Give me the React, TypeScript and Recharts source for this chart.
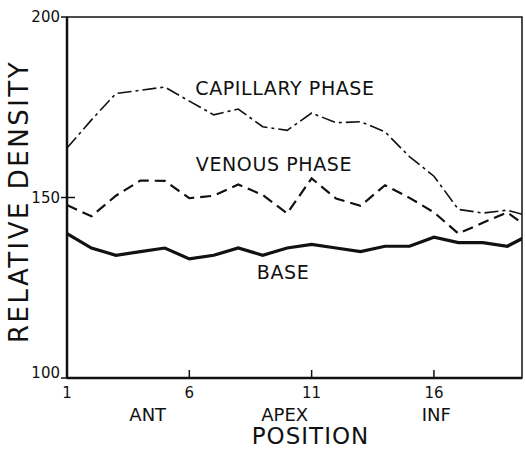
import React from 'react';
import { LineChart, Line, XAxis, YAxis, ReferenceArea, ReferenceDot } from 'recharts';

const positions = [1, 2, 3, 4, 5, 6, 7, 8, 9, 10, 11, 12, 13, 14, 15, 16, 17, 18, 19, 20];
const capillary = [163.7, 171.5, 178.8, 179.7, 180.6, 176.7, 172.9, 174.5, 169.6, 168.6, 173.4, 170.7, 171, 168.2, 161.3, 155.9, 146.7, 145.7, 146.5, 144.6];
const venous = [147.9, 144.8, 150.5, 154.7, 154.6, 149.8, 150.5, 153.6, 150.7, 145.6, 155.3, 149.7, 147.7, 153.4, 149.9, 145.9, 140, 143, 145.9, 140.9];
const base = [140, 136, 134, 135, 136, 133, 134, 136, 134, 136, 137, 136, 135, 136.5, 136.5, 139, 137.5, 137.5, 136.5, 140];

const xTicks = [1, 6, 11, 16];
const yTicks = [100, 150, 200];
const regionTicks = [4.3, 9.9, 16.1];
const regionLabels = ['ANT', 'APEX', 'INF'];

const seriesNames = ['CAPILLARY PHASE', 'VENOUS PHASE', 'BASE'];
const seriesLabelX = [9.91, 9.46, 9.83];
const seriesLabelY = [180.2, 159.2, 129.4];

const xDomain = [1, 19.6];

const font = '"DejaVu Sans", "Roboto", sans-serif';
const ink = '#111';

const data = positions.map((p, i) => ({
  pos: p,
  capillary: capillary[i],
  venous: venous[i],
  base: base[i],
}));

const XTick = (props: any) => {
  const { x, y, payload } = props;
  return (
    <g>
      <line x1={x} x2={x} y1={y - 8} y2={y} stroke={ink} strokeWidth={1.5} />
      <text x={x} y={y + 20} textAnchor="middle" fontFamily={font} fontSize={15} fill={ink}>
        {payload.value}
      </text>
    </g>
  );
};

const RegionTick = (props: any) => {
  const { x, y, index } = props;
  return (
    <text x={x} y={y + 17} textAnchor="middle" fontFamily={font} fontSize={18} fill={ink}>
      {regionLabels[index]}
    </text>
  );
};

const YTick = (props: any) => {
  const { x, y, payload } = props;
  const v = payload.value;
  return (
    <g>
      <line x1={x - 6} x2={v === 150 ? x + 8 : x} y1={y} y2={y} stroke={ink} strokeWidth={1.5} />
      <text x={x - 7} y={y + (v === 100 ? 0 : 5)} textAnchor="end" fontFamily={font} fontSize={15} fill={ink}>
        {v}
      </text>
    </g>
  );
};

const App: React.FC = () => {
  return (
    <div style={{ position: 'absolute', left: 0, top: 0, background: '#fff' }}>
      <LineChart width={525} height={449} data={data} margin={{ top: 17, right: 3, bottom: 0, left: 0 }}>
        <XAxis
          dataKey="pos"
          type="number"
          domain={xDomain}
          allowDataOverflow
          ticks={xTicks}
          tick={<XTick />}
          tickSize={0}
          tickMargin={0}
          tickLine={false}
          axisLine={{ stroke: ink, strokeWidth: 2.5 }}
          height={26}
        />
        <XAxis
          xAxisId="region"
          dataKey="pos"
          type="number"
          domain={xDomain}
          allowDataOverflow
          ticks={regionTicks}
          tick={<RegionTick />}
          tickSize={0}
          tickMargin={0}
          tickLine={false}
          axisLine={false}
          height={45}
          label={{
            content: (p: any) => {
              const vb = p.viewBox;
              return (
                <text x={vb.x + vb.width / 2 + 16} y={vb.y + 40} textAnchor="middle" fontFamily={font} fontSize={23} fill={ink} letterSpacing={1}>
                  POSITION
                </text>
              );
            },
          }}
        />
        <YAxis
          type="number"
          domain={[100, 200]}
          ticks={yTicks}
          tick={<YTick />}
          tickSize={0}
          tickMargin={0}
          tickLine={false}
          axisLine={{ stroke: ink, strokeWidth: 2.5 }}
          width={67}
          label={{
            content: (p: any) => {
              const vb = p.viewBox;
              const cx = vb.x + 19;
              const cy = vb.y + vb.height / 2 + 4;
              return (
                <text
                  x={cx}
                  y={cy}
                  transform={`rotate(-90 ${cx} ${cy})`}
                  textAnchor="middle"
                  dominantBaseline="central"
                  fontFamily={font}
                  fontSize={26}
                  fill={ink}
                  letterSpacing={2.5}
                >
                  RELATIVE DENSITY
                </text>
              );
            },
          }}
        />
        <ReferenceArea x1={xDomain[0]} x2={xDomain[1]} y1={100} y2={200} fill="none" stroke={ink} strokeWidth={1.5} />
        <Line type="linear" dataKey="capillary" stroke={ink} strokeWidth={1.6} strokeDasharray="14 4 3 4" dot={false} isAnimationActive={false} />
        <Line type="linear" dataKey="venous" stroke={ink} strokeWidth={2.2} strokeDasharray="11 6" dot={false} isAnimationActive={false} />
        <Line type="linear" dataKey="base" stroke={ink} strokeWidth={3.2} dot={false} isAnimationActive={false} />
        {seriesNames.map((name, i) => (
          <ReferenceDot
            key={name}
            x={seriesLabelX[i]}
            y={seriesLabelY[i]}
            r={0}
            shape={(p: any) => (
              <text x={p.cx} y={p.cy} dy="0.36em" textAnchor="middle" fontFamily={font} fontSize={19} fill={ink} letterSpacing={0.6}>
                {name}
              </text>
            )}
          />
        ))}
      </LineChart>
    </div>
  );
};

export default App;
